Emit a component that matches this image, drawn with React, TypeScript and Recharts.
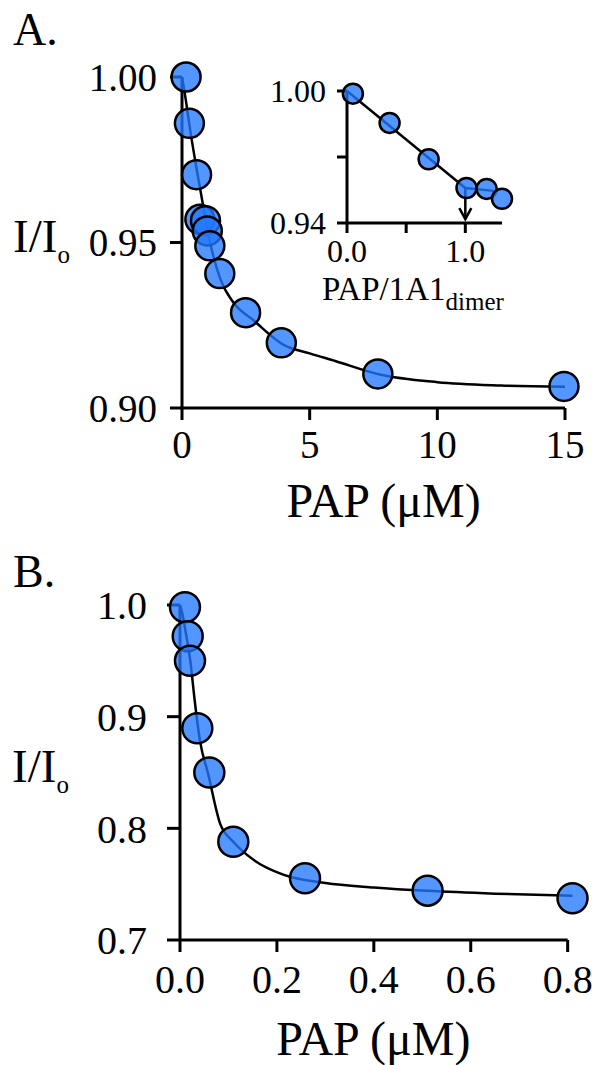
import React from "react";
import { ComposedChart, Line, Scatter, XAxis, YAxis, Label, ReferenceLine } from "recharts";

const FONT = "Liberation Serif";
const DOT_FILL = "#2479ff";
const INK = "#000";

// Panel A: PAP titration, main plot
const aPointX = [0.16, 0.29, 0.57, 0.7, 0.92, 0.99, 1.09, 1.48, 2.49, 3.89, 7.67, 14.96];
const aPointY = [1.0, 0.986, 0.9705, 0.957, 0.9566, 0.9535, 0.949, 0.9406, 0.9288, 0.9197, 0.9103, 0.9065];
const aCurveX = [0, 0.15, 0.3, 0.6, 0.9, 1.1, 1.5, 2.0, 2.8, 4.0, 5.0, 6.0, 7.7, 10, 12.5, 15];
const aCurveY = [1.0, 0.993, 0.985, 0.971, 0.958, 0.95, 0.939, 0.932, 0.9265, 0.919, 0.9165, 0.9142, 0.9102, 0.9078, 0.9068, 0.9064];
const aXTicks = [0, 5, 10, 15];
const aYTicks = [0.9, 0.95, 1.0];

// Panel A inset: PAP / 1A1 dimer
const insetPointX = [0.05, 0.36, 0.69, 1.01, 1.18, 1.31];
const insetPointY = [0.9988, 0.9855, 0.969, 0.9559, 0.9555, 0.951];
const insetFitX = [0, 1.0];
const insetFitY = [1.0, 0.9559];
const insetPlateauX = [1.0, 1.24];
const insetPlateauY = [0.9559, 0.9546];
const insetArrowX = [1.0, 1.0];
const insetArrowY = [0.9559, 0.9418];
const insetXTicks = [0, 0.5, 1.0];
const insetYTicks = [0.94, 0.97, 1.0];

// Panel B
const bPointX = [0.0103, 0.0159, 0.0206, 0.0357, 0.0605, 0.11, 0.258, 0.511, 0.81];
const bPointY = [0.998, 0.972, 0.95, 0.8896, 0.85, 0.788, 0.7553, 0.7442, 0.7374];
const bCurveX = [0, 0.005, 0.012, 0.021, 0.031, 0.041, 0.058, 0.083, 0.11, 0.151, 0.213, 0.3, 0.4, 0.51, 0.65, 0.81];
const bCurveY = [1.0, 0.992, 0.975, 0.951, 0.912, 0.879, 0.849, 0.804, 0.788, 0.772, 0.7585, 0.751, 0.747, 0.744, 0.7415, 0.7397];
const bXTicks = [0, 0.2, 0.4, 0.6, 0.8];
const bYTicks = [0.7, 0.8, 0.9, 1.0];

const zip = (xs: number[], ys: number[]) => xs.map((x, i) => ({ x, y: ys[i] }));

const dot = (r: number) => (p: any) => (
  <circle cx={p.cx} cy={p.cy} r={r} fill={DOT_FILL} fillOpacity={0.78} stroke={INK} strokeWidth={2.5} />
);

const arrowHead = (p: any) => (
  <path d={`M${p.cx - 6},${p.cy - 11} L${p.cx},${p.cy} L${p.cx + 6},${p.cy - 11}`} fill="none" stroke={INK} strokeWidth={2.5} />
);

const axisStroke = { stroke: INK, strokeWidth: 3 };
const txt = { fontFamily: FONT };

function PanelA() {
  return (
    <ComposedChart width={592} height={540} margin={{ top: 77, right: 27, bottom: 22, left: 0 }}>
      <XAxis
        type="number"
        dataKey="x"
        domain={[0, 15]}
        ticks={aXTicks}
        interval={0}
        tickSize={12}
        tickMargin={10}
        height={110}
        axisLine={axisStroke}
        tickLine={axisStroke}
        tick={{ fill: INK, fontSize: 39, fontFamily: FONT, style: txt }}
      >
        <Label
          content={(p: any) => (
            <text x={p.viewBox.x + p.viewBox.width / 2 + 10} y={p.viewBox.y + 109} textAnchor="middle" fontSize={48} style={txt} fill={INK}>
              PAP (μM)
            </text>
          )}
        />
      </XAxis>
      <YAxis
        type="number"
        dataKey="y"
        domain={[0.9, 1.0]}
        ticks={aYTicks}
        interval={0}
        width={182}
        tickSize={12}
        tickMargin={13}
        axisLine={axisStroke}
        tickLine={axisStroke}
        tickFormatter={(v: number) => v.toFixed(2)}
        tick={{ fill: INK, fontSize: 39, fontFamily: FONT, style: txt }}
      >
        <Label
          content={(p: any) => (
            <g fill={INK}>
              <text x={13} y={p.viewBox.y - 32} fontSize={46} style={txt}>A.</text>
              <text x={13} y={p.viewBox.y + 175} fontSize={47} style={txt}>
                I/I<tspan fontSize={25} dy={11}>o</tspan>
              </text>
            </g>
          )}
        />
      </YAxis>
      <Line data={zip(aCurveX, aCurveY)} dataKey="y" type="monotone" stroke={INK} strokeWidth={2.5} dot={false} isAnimationActive={false} />
      <Scatter data={zip(aPointX, aPointY)} dataKey="y" shape={dot(14.5)} isAnimationActive={false} />
    </ComposedChart>
  );
}

function Inset() {
  return (
    <ComposedChart width={300} height={270} margin={{ top: 31, right: 48, bottom: 17, left: 0 }}>
      <XAxis
        type="number"
        dataKey="x"
        domain={[0, 1.31]}
        ticks={insetXTicks}
        interval={0}
        tickSize={10}
        tickMargin={6}
        height={90}
        axisLine={axisStroke}
        tickLine={axisStroke}
        tickFormatter={(v: number) => (v === 0.5 ? "" : v.toFixed(1))}
        tick={{ fill: INK, fontSize: 32, fontFamily: FONT, style: txt }}
      >
        <Label
          content={(p: any) => (
            <text x={p.viewBox.x - 25} y={p.viewBox.y + 77} fontSize={33} style={txt} fill={INK}>
              PAP/1A1<tspan fontSize={25} dy={10}>dimer</tspan>
            </text>
          )}
        />
      </XAxis>
      <YAxis
        type="number"
        dataKey="y"
        domain={[0.94, 1.0]}
        ticks={insetYTicks}
        interval={0}
        width={97}
        tickSize={10}
        tickMargin={11}
        axisLine={axisStroke}
        tickLine={axisStroke}
        tickFormatter={(v: number) => (Math.abs(v - 0.97) < 1e-6 ? "" : v.toFixed(2))}
        tick={{ fill: INK, fontSize: 32, fontFamily: FONT, style: txt }}
      />
      <Line data={zip(insetFitX, insetFitY)} dataKey="y" type="linear" stroke={INK} strokeWidth={2.5} dot={false} isAnimationActive={false} />
      <Line data={zip(insetPlateauX, insetPlateauY)} dataKey="y" type="linear" stroke={INK} strokeWidth={2.5} dot={false} isAnimationActive={false} />
      <Scatter data={zip(insetPointX, insetPointY)} dataKey="y" shape={dot(10)} isAnimationActive={false} />
      <Line data={zip(insetArrowX, insetArrowY)} dataKey="y" type="linear" stroke={INK} strokeWidth={2.5} dot={false} isAnimationActive={false} />
      <Scatter data={zip(insetArrowX.slice(1), insetArrowY.slice(1))} dataKey="y" shape={arrowHead} isAnimationActive={false} />
    </ComposedChart>
  );
}

function PanelB() {
  return (
    <ComposedChart width={592} height={525} margin={{ top: 65, right: 19.5, bottom: 20, left: 0 }}>
      <XAxis
        type="number"
        dataKey="x"
        domain={[0, 0.81]}
        ticks={bXTicks}
        interval={0}
        tickSize={12}
        tickMargin={13}
        height={105}
        axisLine={false}
        tickLine={axisStroke}
        tickFormatter={(v: number) => v.toFixed(1)}
        tick={{ fill: INK, fontSize: 40, fontFamily: FONT, style: txt }}
      >
        <Label
          content={(p: any) => (
            <text x={p.viewBox.x + p.viewBox.width / 2 - 3} y={p.viewBox.y + 115} textAnchor="middle" fontSize={48} style={txt} fill={INK}>
              PAP (μM)
            </text>
          )}
        />
      </XAxis>
      <YAxis
        type="number"
        dataKey="y"
        domain={[0.7, 1.0]}
        ticks={bYTicks}
        interval={0}
        width={180}
        tickSize={13}
        tickMargin={20}
        axisLine={axisStroke}
        tickLine={axisStroke}
        tickFormatter={(v: number) => v.toFixed(1)}
        tick={{ fill: INK, fontSize: 40, fontFamily: FONT, style: txt }}
      >
        <Label
          content={(p: any) => (
            <g fill={INK}>
              <text x={13} y={p.viewBox.y - 18} fontSize={46} style={txt}>B.</text>
              <text x={12} y={p.viewBox.y + 177} fontSize={47} style={txt}>
                I/I<tspan fontSize={25} dy={11}>o</tspan>
              </text>
            </g>
          )}
        />
      </YAxis>
      <ReferenceLine segment={[{ x: 0, y: 0.7 }, { x: 0.8, y: 0.7 }]} stroke={INK} strokeWidth={3} ifOverflow="visible" />
      <Line data={zip(bCurveX, bCurveY)} dataKey="y" type="monotone" stroke={INK} strokeWidth={2.5} dot={false} isAnimationActive={false} />
      <Scatter data={zip(bPointX, bPointY)} dataKey="y" shape={dot(15)} isAnimationActive={false} />
    </ComposedChart>
  );
}

export default function App() {
  return (
    <div style={{ position: "absolute", left: 0, top: 0, width: 592, height: 1065, background: "#fff", fontFamily: FONT }}>
      <div style={{ position: "absolute", left: 0, top: 0 }}>
        <PanelA />
      </div>
      <div style={{ position: "absolute", left: 250, top: 60 }}>
        <Inset />
      </div>
      <div style={{ position: "absolute", left: 0, top: 540 }}>
        <PanelB />
      </div>
    </div>
  );
}
